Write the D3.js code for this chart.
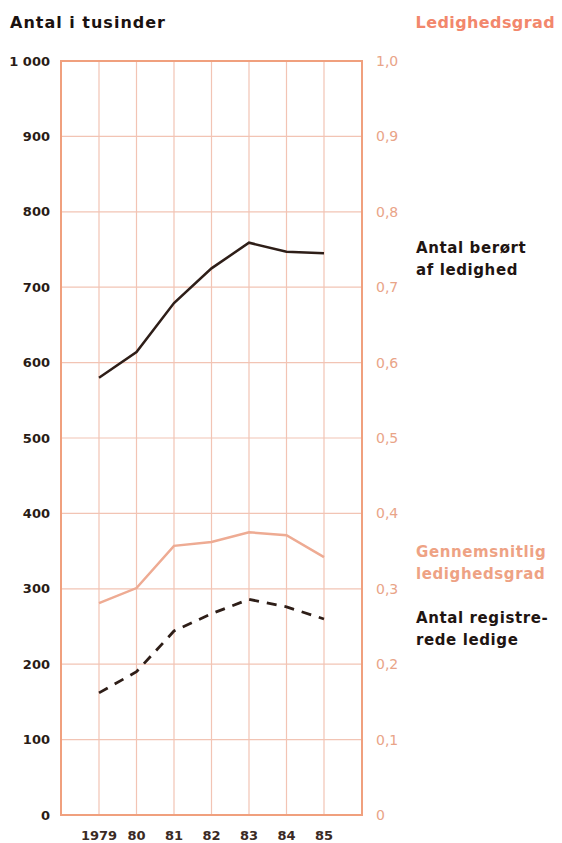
<!DOCTYPE html>
<html>
<head>
<meta charset="utf-8">
<script src="https://cdn.jsdelivr.net/npm/d3@7"></script>
<style>
  body { margin: 0; background: #fff; }
  text { font-family: "DejaVu Sans", sans-serif; }
</style>
</head>
<body>
<div id="chart"></div>
<script>
let years = ['1979', '80', '81', '82', '83', '84', '85']
let leftTicks = [0, 100, 200, 300, 400, 500, 600, 700, 800, 900, 1000]
let rightTicks = [0, 0.1, 0.2, 0.3, 0.4, 0.5, 0.6, 0.7, 0.8, 0.9, 1.0]

// Antal berørt af ledighed (tusinder)
let berort = [580, 614, 679, 725, 759, 747, 745]
// Gennemsnitlig ledighedsgrad
let grad = [0.281, 0.301, 0.357, 0.362, 0.375, 0.371, 0.342]
// Antal registrerede ledige (tusinder)
let registrerede = [162, 190, 244, 267, 286, 276, 260]

let width = 562
let height = 843
let margin = { top: 61, left: 61, right: 200, bottom: 28 }

let svg = d3
  .select('#chart')
  .append('svg')
  .attr('width', width)
  .attr('height', height)

let x0 = margin.left
let x1 = width - margin.right
let y0 = height - margin.bottom
let y1 = margin.top

let xScale = d3
  .scalePoint()
  .domain(years)
  .range([99, 324])

let yLeft = d3.scaleLinear().domain([0, 1000]).range([y0, y1])
let yRight = d3.scaleLinear().domain([0, 1]).range([y0, y1])

let gridColor = '#f2c4b4'
let frameColor = '#f0a07e'

// horizontal grid
svg
  .selectAll('.hgrid')
  .data(leftTicks)
  .enter()
  .append('line')
  .attr('x1', x0)
  .attr('x2', x1)
  .attr('y1', d => yLeft(d))
  .attr('y2', d => yLeft(d))
  .attr('stroke', gridColor)
  .attr('stroke-width', 1.2)

// vertical grid
svg
  .selectAll('.vgrid')
  .data(years)
  .enter()
  .append('line')
  .attr('x1', d => xScale(d))
  .attr('x2', d => xScale(d))
  .attr('y1', yLeft(1000))
  .attr('y2', yLeft(0))
  .attr('stroke', gridColor)
  .attr('stroke-width', 1.2)

// frame
svg
  .append('rect')
  .attr('x', x0)
  .attr('y', yLeft(1000))
  .attr('width', x1 - x0)
  .attr('height', yLeft(0) - yLeft(1000))
  .attr('fill', 'none')
  .attr('stroke', frameColor)
  .attr('stroke-width', 2)

// left axis labels
svg
  .selectAll('.ltick')
  .data(leftTicks)
  .enter()
  .append('text')
  .attr('x', 50)
  .attr('y', d => yLeft(d))
  .attr('dy', '0.35em')
  .attr('text-anchor', 'end')
  .attr('font-size', 13)
  .attr('font-weight', 'bold')
  .attr('fill', '#2a1c16')
  .text(d => (d === 1000 ? '1 000' : d))

// right axis labels
svg
  .selectAll('.rtick')
  .data(rightTicks)
  .enter()
  .append('text')
  .attr('x', 376)
  .attr('y', d => yRight(d))
  .attr('dy', '0.35em')
  .attr('font-size', 14)
  .attr('fill', '#e9a488')
  .text(d => (d === 0 ? '0' : d.toFixed(1).replace('.', ',')))

// year labels
svg
  .selectAll('.year')
  .data(years)
  .enter()
  .append('text')
  .attr('x', d => xScale(d))
  .attr('y', 840)
  .attr('text-anchor', 'middle')
  .attr('font-size', 13)
  .attr('font-weight', 'bold')
  .attr('fill', '#3a2a24')
  .text(d => d)

// titles
svg
  .append('text')
  .attr('x', 10)
  .attr('y', 28)
  .attr('font-size', 16)
  .attr('font-weight', 'bold')
  .attr('letter-spacing', 1)
  .attr('fill', '#1a1210')
  .text('Antal i tusinder')

svg
  .append('text')
  .attr('x', 555)
  .attr('y', 28)
  .attr('text-anchor', 'end')
  .attr('font-size', 16)
  .attr('font-weight', 'bold')
  .attr('letter-spacing', 0.4)
  .attr('fill', '#f2876c')
  .text('Ledighedsgrad')

// lines
let lineLeft = d3
  .line()
  .x((d, i) => xScale(years[i]))
  .y(d => yLeft(d))

let lineRight = d3
  .line()
  .x((d, i) => xScale(years[i]))
  .y(d => yRight(d))

svg
  .append('path')
  .datum(grad)
  .attr('d', lineRight)
  .attr('fill', 'none')
  .attr('stroke', '#eeab93')
  .attr('stroke-width', 2.5)

svg
  .append('path')
  .datum(registrerede)
  .attr('d', lineLeft)
  .attr('fill', 'none')
  .attr('stroke', '#2e1e18')
  .attr('stroke-width', 2.8)
  .attr('stroke-dasharray', '10,8')

svg
  .append('path')
  .datum(berort)
  .attr('d', lineLeft)
  .attr('fill', 'none')
  .attr('stroke', '#2e1e18')
  .attr('stroke-width', 2.5)

// series labels
let labels = [
  { lines: ['Antal berørt', 'af ledighed'], y: 253, color: '#1f1512' },
  { lines: ['Gennemsnitlig', 'ledighedsgrad'], y: 557, color: '#eea284' },
  { lines: ['Antal registre-', 'rede ledige'], y: 623, color: '#1f1512' }
]

labels.forEach(l => {
  let t = svg
    .append('text')
    .attr('x', 416)
    .attr('y', l.y)
    .attr('font-size', 15)
    .attr('font-weight', 'bold')
    .attr('letter-spacing', 0.6)
    .attr('fill', l.color)
  l.lines.forEach((s, i) => {
    t.append('tspan')
      .attr('x', 416)
      .attr('dy', i === 0 ? 0 : 22)
      .text(s)
  })
})
</script>
</body>
</html>
